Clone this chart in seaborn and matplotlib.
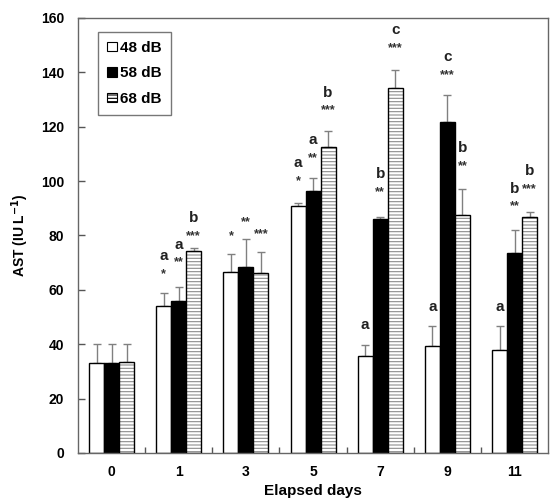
import matplotlib
matplotlib.use('Agg')
import matplotlib.pyplot as plt
from matplotlib.patches import Patch, Rectangle
import numpy as np
import pandas as pd
import seaborn as sns

days = ['0', '1', '3', '5', '7', '9', '11']
levels = ['48 dB', '58 dB', '68 dB']

ast_48 = [33.0, 54.2, 66.6, 91.0, 35.5, 39.5, 38.0]
ast_58 = [33.0, 55.9, 68.4, 96.5, 86.0, 121.7, 73.6]
ast_68 = [33.3, 74.3, 66.3, 112.7, 134.4, 87.6, 86.8]

sd_48 = [7.0, 4.6, 6.4, 1.0, 4.2, 7.2, 8.6]
sd_58 = [7.0, 5.0, 10.3, 4.8, 0.8, 9.9, 8.3]
sd_68 = [6.8, 1.0, 7.5, 5.7, 6.6, 9.4, 1.7]

# letters / stars over each bar (48, 58, 68 dB)
letters_48 = ['', 'a', '', 'a', 'a', 'a', 'a']
letters_58 = ['', 'a', '', 'a', 'b', 'c', 'b']
letters_68 = ['', 'b', '', 'b', 'c', 'b', 'b']
stars_48 = ['', '*', '*', '*', '', '', '']
stars_58 = ['', '**', '**', '**', '**', '***', '**']
stars_68 = ['', '***', '***', '***', '***', '**', '***']
# height of the letter line
note_48 = [np.nan, 72.4, 86.4, 106.6, 47.1, 53.7, 53.7]
note_58 = [np.nan, 76.5, 91.5, 115.1, 102.6, 145.6, 97.1]
note_68 = [np.nan, 86.4, 87.1, 132.4, 155.5, 112.1, 103.7]

df = pd.DataFrame({
    'day': days * 3,
    'level': [levels[0]] * 7 + [levels[1]] * 7 + [levels[2]] * 7,
    'ast': ast_48 + ast_58 + ast_68,
})

plt.rcParams['font.family'] = ['Liberation Sans', 'DejaVu Sans']
plt.rcParams['font.weight'] = 'bold'
plt.rcParams['hatch.linewidth'] = 0.8

fig = plt.figure(figsize=(5.57, 4.98), dpi=100)
ax = fig.add_axes([0.140, 0.0904, 0.844, 0.8736])

sns.barplot(data=df, x='day', y='ast', hue='level', order=days, hue_order=levels,
            palette=['white', 'black', 'white'], edgecolor='black', linewidth=1,
            width=0.67, gap=0, errorbar=None, legend=False, ax=ax, zorder=2)

sds = [sd_48, sd_58, sd_68]
letters = [letters_48, letters_58, letters_68]
stars = [stars_48, stars_58, stars_68]
notes = [note_48, note_58, note_68]

bar_conts = list(ax.containers)
for k, cont in enumerate(bar_conts):
    xs = [p.get_x() + p.get_width() / 2 for p in cont.patches]
    hs = [p.get_height() for p in cont.patches]
    ax.errorbar(xs, hs, yerr=[np.zeros(len(hs)), sds[k]], fmt='none',
                ecolor='#808080', elinewidth=1, capsize=3, capthick=1, zorder=1)
    if k == 2:
        for p in cont.patches:
            p.set_edgecolor('#8c8c8c')
            p.set_linewidth(0)
            p.set_hatch('-----')
            ax.add_patch(Rectangle(p.get_xy(), p.get_width(), p.get_height(),
                                   fill=False, edgecolor='black', lw=1, zorder=3))
    for i, x in enumerate(xs):
        y = notes[k][i]
        if np.isnan(y):
            continue
        if letters[k][i]:
            ax.text(x, y, letters[k][i], ha='center', va='center', fontsize=11,
                    fontweight='bold', color='#222222')
        if stars[k][i]:
            ax.text(x, y - 6.5, stars[k][i], ha='center', va='center', fontsize=9,
                    fontweight='bold', color='#333333')

ax.set_xlim(-0.5, 6.5)
ax.set_ylim(0, 160)
ax.set_yticks(np.arange(0, 161, 20))
ax.set_xticks(range(len(days)))
ax.set_xticks(np.arange(0.5, 6, 1), minor=True)
ax.tick_params(axis='y', direction='in', length=5, width=1, color='#555555',
               labelsize=10, pad=10)
ax.tick_params(axis='x', which='major', length=0, labelsize=10, pad=9)
ax.tick_params(axis='x', which='minor', direction='in', length=4, width=1, color='#555555')
for lab in ax.get_xticklabels() + ax.get_yticklabels():
    lab.set_fontweight('bold')
for s in ax.spines.values():
    s.set_color('#666666')
    s.set_linewidth(1)

ax.set_ylabel('AST (IU L$^{\\mathbf{-1}}$)', fontsize=10, fontweight='bold', labelpad=7)
ax.set_xlabel('Elapsed days', fontsize=11, fontweight='bold', labelpad=3)

handles = [Patch(facecolor='white', edgecolor='black', lw=0.8),
           Patch(facecolor='black', edgecolor='black', lw=0.8),
           Patch(facecolor='white', edgecolor='black', hatch='-----', lw=0.8)]
leg = ax.legend(handles, levels, loc='upper left', bbox_to_anchor=(0.043, 0.968),
                handlelength=0.6, handleheight=0.6, handletextpad=0.25,
                labelspacing=0.75, fontsize=11, fancybox=False, frameon=True,
                borderpad=0.6, borderaxespad=0)
leg.get_frame().set_edgecolor('#555555')
leg.get_frame().set_linewidth(1)
for t in leg.get_texts():
    t.set_fontweight('bold')

fig.savefig('out.png', dpi=100)
